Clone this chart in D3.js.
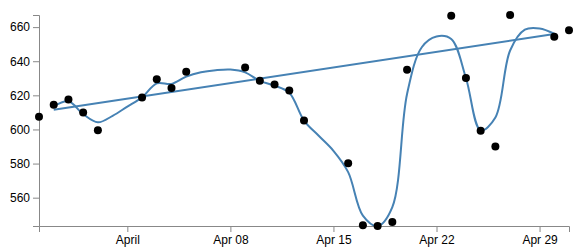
<!DOCTYPE html>
<html>
<head>
<meta charset="utf-8">
<script src="https://cdn.jsdelivr.net/npm/d3@7"></script>
<style>
  body { margin: 0; background: #fff; }
  .axis text { font-family: "Liberation Sans", Arial, sans-serif; font-size: 12px; fill: #000; }
  .axis path, .axis line { stroke: #888; }
</style>
</head>
<body>
<div id="container"></div>
<script>
let w = 582;
let h = 252;
let margin = {top: 15, right: 13, bottom: 26, left: 39};

// observed points
let pointDates = ["2018-03-26","2018-03-27","2018-03-28","2018-03-29","2018-03-30",
  "2018-04-02","2018-04-03","2018-04-04","2018-04-05","2018-04-09","2018-04-10",
  "2018-04-11","2018-04-12","2018-04-13","2018-04-16","2018-04-17","2018-04-18",
  "2018-04-19","2018-04-20","2018-04-23","2018-04-24","2018-04-25","2018-04-26",
  "2018-04-27","2018-04-30","2018-05-01"];
let pointValues = [607.5, 614.5, 617.6, 610, 599.6,
  618.8, 629.4, 624.3, 633.8, 636.3, 628.5,
  626.3, 622.8, 605.3, 580.2, 543.8, 543.4,
  545.7, 635, 666.7, 630.2, 599.2, 590,
  667.1, 654.4, 658.2];

// smoothed curve, one value per day from Mar 27 to Apr 30
let smoothStart = "2018-03-27";
let smoothValues = [613.5, 616.5, 609, 604.2, 608, 613.4, 618.8, 627, 626.7, 631,
  633.5, 634.7, 635.1, 633.5, 628.5, 625.7, 621.5, 605.2, 596.3, 587.5,
  575, 549.5, 543.4, 554.5, 620.8, 648.2, 654.5, 653, 630.2, 599.5,
  607, 646.3, 658.5, 659.2, 656.1];

// trend line ends
let trendDates = ["2018-03-27", "2018-04-30"];
let trendValues = [611.5, 656];

let parse = d3.timeParse("%Y-%m-%d");

let points = pointDates.map((d, i) => ({date: parse(d), value: pointValues[i]}));
let smooth = smoothValues.map((v, i) => ({date: d3.timeDay.offset(parse(smoothStart), i), value: v}));
let trend = trendDates.map((d, i) => ({date: parse(d), value: trendValues[i]}));

let x = d3.scaleTime()
  .domain(d3.extent(points, d => d.date))
  .range([margin.left, w - margin.right]);

let y = d3.scaleLinear()
  .domain(d3.extent(points, d => d.value))
  .range([h - margin.bottom, margin.top]);

let viz = d3.select("#container")
  .append("svg")
    .attr("width", w)
    .attr("height", h);

viz.append("g")
  .attr("class", "axis")
  .attr("transform", `translate(0,${h - margin.bottom})`)
  .call(d3.axisBottom(x).ticks(d3.timeWeek.every(1)));

viz.append("g")
  .attr("class", "axis")
  .attr("transform", `translate(${margin.left},0)`)
  .call(d3.axisLeft(y).tickValues([560, 580, 600, 620, 640, 660]));

let line = d3.line()
  .x(d => x(d.date))
  .y(d => y(d.value));

viz.append("path")
  .datum(trend)
  .attr("fill", "none")
  .attr("stroke", "steelblue")
  .attr("stroke-width", 2)
  .attr("d", line);

viz.append("path")
  .datum(smooth)
  .attr("fill", "none")
  .attr("stroke", "steelblue")
  .attr("stroke-width", 2)
  .attr("d", line.curve(d3.curveCatmullRom.alpha(0.5)));

viz.append("g")
  .selectAll("circle")
  .data(points)
  .join("circle")
    .attr("cx", d => x(d.date))
    .attr("cy", d => y(d.value))
    .attr("r", 4)
    .attr("fill", "#000");
</script>
</body>
</html>
